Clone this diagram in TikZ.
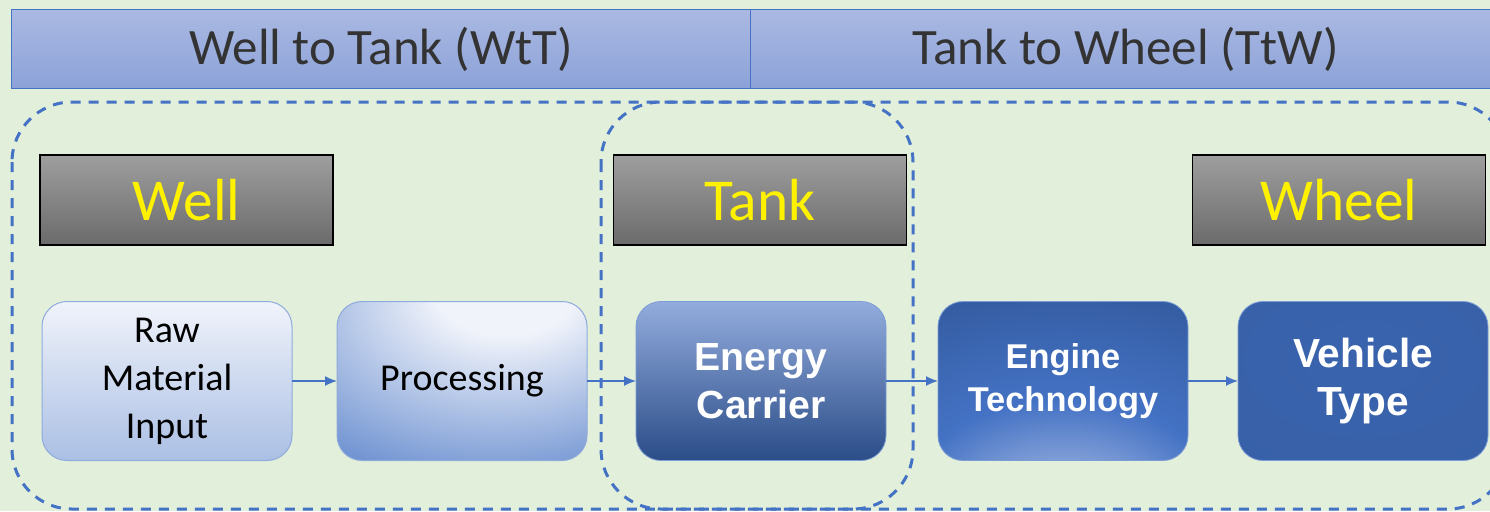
\documentclass[tikz,border=0pt]{standalone}
\usepackage{fontspec}
\setmainfont{Carlito}
\newfontfamily\boldlabel{Liberation Sans}
\usetikzlibrary{arrows.meta, positioning}
\definecolor{bggreen}{HTML}{E2EFDA}
\definecolor{accent}{HTML}{4472C4}
\definecolor{deepblue}{HTML}{2F5597}
\definecolor{headtop}{HTML}{AAB9E2}
\definecolor{headbot}{HTML}{8CA2D8}
\definecolor{headtext}{HTML}{333333}
\definecolor{procwhite}{HTML}{F0F3FA}
\definecolor{glow}{HTML}{93ACDD}
\pgfdeclareradialshading{procglow}{\pgfpoint{10bp}{32bp}}{color(0bp)=(procwhite); color(14bp)=(procwhite); color(50bp)=(accent!75!white); color(75bp)=(accent); color(120bp)=(accent)}
\pgfdeclareradialshading{engineglow}{\pgfpoint{0bp}{-48bp}}{color(0bp)=(glow); color(12bp)=(glow); color(30bp)=(accent); color(60bp)=(deepblue!90!accent); color(120bp)=(deepblue)}
\pgfdeclareradialshading{vehicleglow}{\pgfpoint{0bp}{8bp}}{color(0bp)=(accent!50!deepblue); color(35bp)=(accent!40!deepblue); color(65bp)=(deepblue); color(120bp)=(deepblue!90!black)}

\begin{document}
\begin{tikzpicture}[
  x=0.5pt, y=-0.5pt,
  head/.style={rectangle, draw=accent, line width=0.5pt, minimum width=369.5pt, minimum height=39.5pt, top color=headtop, bottom color=headbot, text=headtext, font=\fontsize{25.5}{30}\selectfont},
  tag/.style={rectangle, draw=black, line width=0.6pt, minimum width=146.5pt, minimum height=45pt, top color=black!38, bottom color=black!58, text=yellow, font=\fontsize{29.7}{35}\selectfont},
  stage/.style={rectangle, rounded corners=12.5pt, minimum width=125pt, minimum height=79.5pt, align=center, inner sep=2pt, outer sep=0pt},
  lightstage/.style={stage, draw=accent!60, line width=0.5pt, font=\fontsize{19}{24}\selectfont},
  darkstage/.style={stage, draw=accent!70, line width=0.4pt, text=white},
  frame/.style={draw=accent, line width=1.5pt, dash pattern=on 5pt off 4pt, rounded corners=30pt},
  arrow/.style={-{Latex[length=6pt, width=5pt]}, draw=accent, line width=0.7pt},
]

\fill[bggreen] (0,0) rectangle (1490,511);
\useasboundingbox (0,0) rectangle (1490,511);
\clip (0,0) rectangle (1490,511);

\node[head, anchor=north west] (wtt) at (11,9) {Well to Tank (WtT)};
\node[head, anchor=north west, minimum width=375pt] (ttw) at (750,9) {Tank to Wheel (TtW)};

\draw[frame] (12,102) rectangle (1508,509);
\draw[frame] (601,102) rectangle (913,509);

\node[tag] (well) at (186.5,200) {Well};
\node[tag] (tank) at (760,200) {Tank};
\node[tag] (wheel) at (1339,200) {Wheel};

\node[lightstage, top color=procwhite, bottom color=accent!45!white] (raw) at (167,381) {Raw\\Material\\Input};
\node[lightstage, right=22.5pt of raw, shading=procglow] (proc) {Processing};
\node[darkstage, right=24.5pt of proc, top color=glow, bottom color=deepblue!90!black, font=\boldlabel\bfseries\fontsize{19.6}{24}\selectfont] (carrier) {Energy\\Carrier};
\node[darkstage, right=26pt of carrier, shading=engineglow, font=\boldlabel\bfseries\fontsize{17.2}{21.5}\selectfont] (engine) {Engine\\Technology};
\node[darkstage, right=25pt of engine, shading=vehicleglow, font=\boldlabel\bfseries\fontsize{20.3}{24}\selectfont] (vehicle) {Vehicle\\Type};

\draw[arrow] (raw) -- (proc);
\draw[arrow] (proc) -- (carrier);
\draw[arrow] (carrier) -- (engine);
\draw[arrow] (engine) -- (vehicle);

\end{tikzpicture}
\end{document}
